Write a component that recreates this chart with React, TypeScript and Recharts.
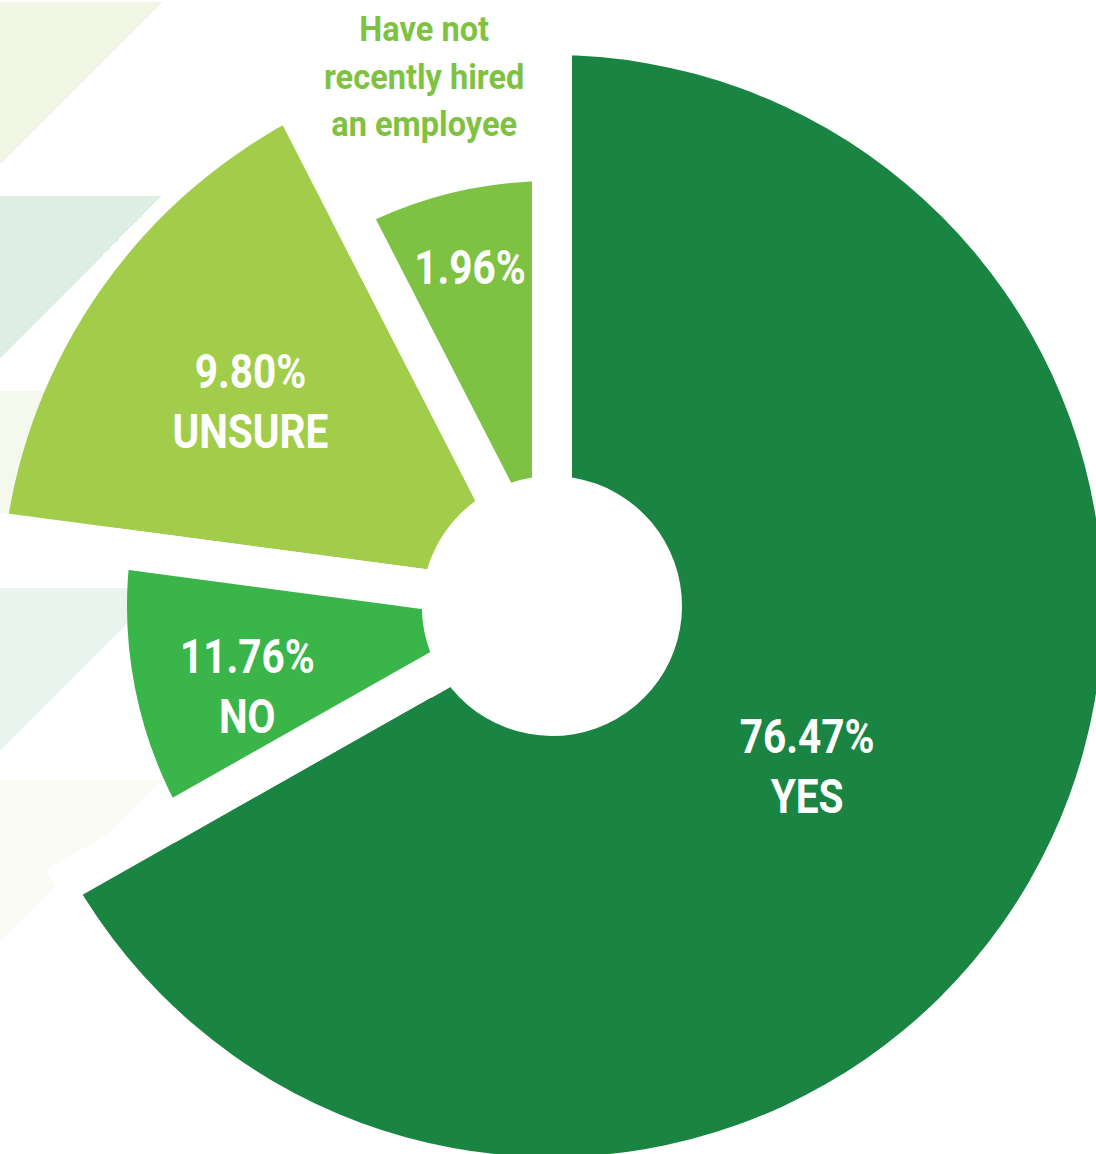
import { PieChart, Pie, Cell } from 'recharts';

const categories = ['YES', 'NO', 'UNSURE', 'Have not recently hired an employee'];
const percentages = [76.47, 11.76, 9.8, 1.96];
// the infographic does not draw slices to scale, so this is the share of the
// circle each slice takes up in the picture (clockwise from 12 o'clock)
const arcShares = [66.8, 10.3, 15.35, 7.55];

const COLORS = ['#1a8542', '#3ab54a', '#a2cd4b', '#7dc242'];
const LONG_SLICE = [true, false, true, false];

const FONT = "Roboto, 'Liberation Sans', sans-serif";
const GAP = 40;
const INNER = 130;
const OUTER_LONG = 551;
const OUTER_SHORT = 425;
const RADIAN = Math.PI / 180;
// label placement along each slice (radius, small angle nudge)
const LABEL_RADIUS = [301, 315, 365, 349];
const LABEL_NUDGE = [-1.8, 3.7, 0.9, 0];
const NOTE_RADIUS = 544;

const BANDS = [
  { top: 2, color: '#f1f6e5' },
  { top: 196, color: '#deeee5' },
  { top: 391, color: '#f5f8ec' },
  { top: 588, color: '#eaf4ee' },
  { top: 780, color: '#fafbf5' },
];

const data = categories.map((name, i) => ({ name, pct: percentages[i], share: arcShares[i] }));
const totalShare = arcShares.reduce((s, v) => s + v, 0);

// white stroke only on the two straight edges of a sector -> parallel gaps.
// sector path: outer arc, edge, inner arc, edge (Z)
function edgeStroke(index: number, outer: number, show: boolean) {
  if (!show) return { stroke: 'none', strokeWidth: 0 };
  const sweep = (arcShares[index] / totalShare) * 2 * Math.PI;
  const side = outer - INNER;
  const outerArc = outer * sweep;
  const innerArc = INNER * sweep;
  return {
    stroke: '#fff',
    strokeWidth: GAP,
    strokeLinecap: 'square' as const,
    strokeDasharray: `${side} ${innerArc} ${side} ${outerArc}`,
    strokeDashoffset: 2 * side + innerArc,
  };
}

function renderLabel(props: any) {
  const { cx, cy, midAngle, index } = props;
  const r = LABEL_RADIUS[index];
  const a = (midAngle + LABEL_NUDGE[index]) * RADIAN;
  const x = cx + r * Math.cos(-a);
  const y = cy + r * Math.sin(-a);
  const pct = `${percentages[index].toFixed(2)}%`;

  if (index < 3) {
    return (
      <g key={`l-${index}`} transform={`translate(${x} ${y}) scale(0.845 1)`}>
        <text x={0} y={0} textAnchor="middle" fill="#fff" fontFamily={FONT} fontSize={48} fontWeight={700}>
          <tspan x={0} dy={-12.5}>{pct}</tspan>
          <tspan x={0} dy={60}>{categories[index]}</tspan>
        </text>
      </g>
    );
  }

  // small slice: value inside, category written above the slice
  const na = midAngle * RADIAN;
  const nx = cx + NOTE_RADIUS * Math.cos(-na);
  const ny = cy + NOTE_RADIUS * Math.sin(-na);
  const lines = ['Have not', 'recently hired', 'an employee'];
  return (
    <g key={`l-${index}`}>
      <g transform={`translate(${x} ${y}) scale(0.845 1)`}>
        <text x={0} y={0} dy={17} textAnchor="middle" fill="#fff" fontFamily={FONT} fontSize={48} fontWeight={700}>
          {pct}
        </text>
      </g>
      <g transform={`translate(${nx} ${ny}) scale(0.93 1)`}>
        <text x={0} y={0} textAnchor="middle" fill="#7fc241" fontFamily={FONT} fontSize={35} fontWeight={700}>
          {lines.map((line, i) => (
            <tspan key={line} x={0} dy={i === 0 ? -36 : 47.5}>{line}</tspan>
          ))}
        </text>
      </g>
    </g>
  );
}

export default function App() {
  return (
    <div style={{ position: 'absolute', left: 0, top: 0, width: 1096, height: 1154, background: '#fff', overflow: 'hidden' }}>
      {/* faint diagonal background bands */}
      {BANDS.map((b) => (
        <div
          key={b.top}
          style={{
            position: 'absolute',
            left: 0,
            top: b.top,
            width: 162,
            height: 162,
            background: `linear-gradient(to bottom right, ${b.color} 50%, transparent 50%)`,
          }}
        />
      ))}
      <div style={{ position: 'absolute', left: 0, top: 0 }}>
        <PieChart width={1096} height={1154} margin={{ top: 0, right: 0, bottom: 0, left: 0 }}>
          {/* long slices (YES, UNSURE) */}
          <Pie
            data={data}
            dataKey="share"
            nameKey="name"
            cx={552}
            cy={606}
            startAngle={90}
            endAngle={-270}
            innerRadius={INNER}
            outerRadius={OUTER_LONG}
            labelLine={false}
            label={false}
            isAnimationActive={false}
          >
            {data.map((entry, index) => (
              <Cell
                key={`a-${index}`}
                fill={LONG_SLICE[index] ? COLORS[index] : 'none'}
                {...edgeStroke(index, OUTER_LONG, LONG_SLICE[index])}
              />
            ))}
          </Pie>
          {/* short slices (NO, have not hired) + all labels */}
          <Pie
            data={data}
            dataKey="share"
            nameKey="name"
            cx={552}
            cy={606}
            startAngle={90}
            endAngle={-270}
            innerRadius={INNER}
            outerRadius={OUTER_SHORT}
            labelLine={false}
            label={renderLabel}
            isAnimationActive={false}
          >
            {data.map((entry, index) => (
              <Cell
                key={`b-${index}`}
                fill={!LONG_SLICE[index] ? COLORS[index] : 'none'}
                {...edgeStroke(index, OUTER_SHORT, !LONG_SLICE[index])}
              />
            ))}
          </Pie>
        </PieChart>
      </div>
    </div>
  );
}
